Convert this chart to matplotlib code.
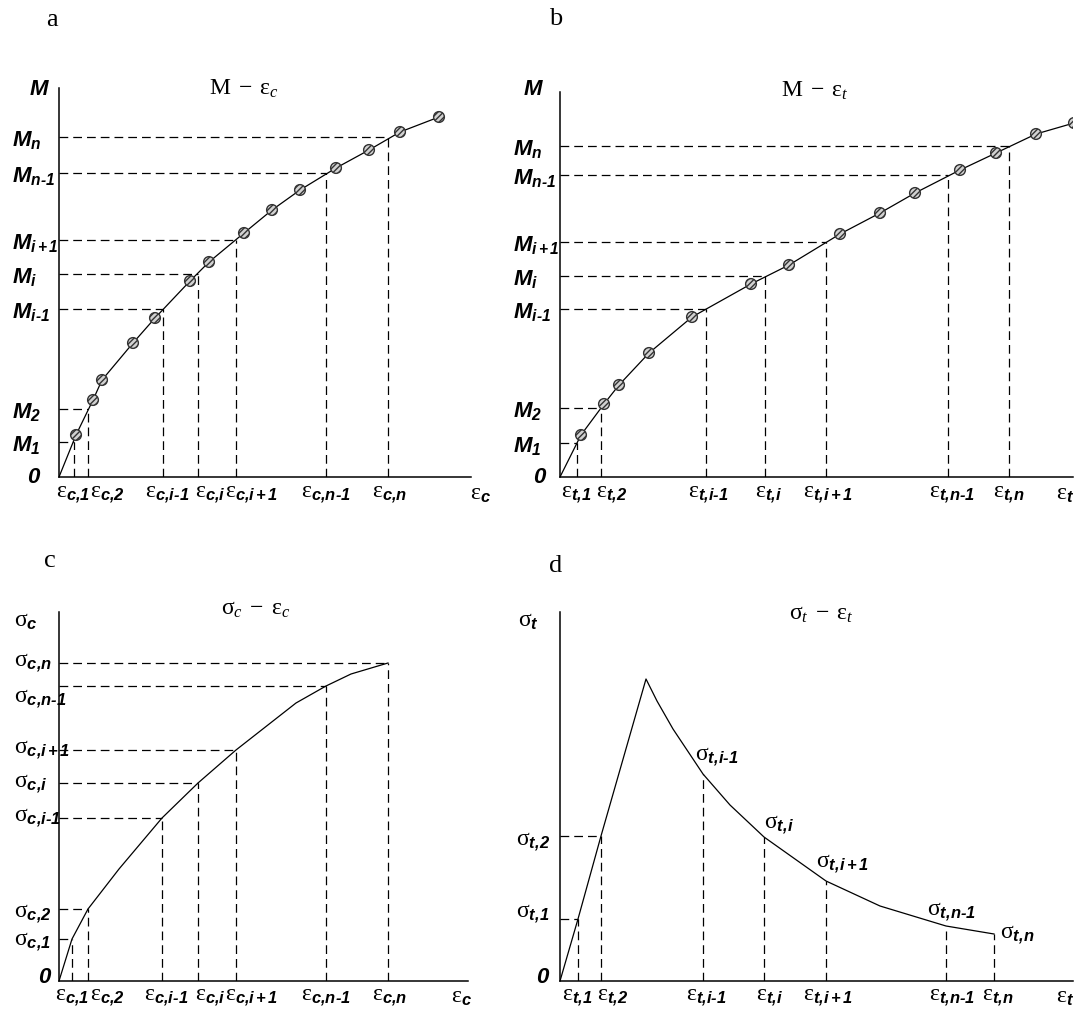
import numpy as np
import matplotlib
matplotlib.use('Agg')
import matplotlib.pyplot as plt

plt.rcParams['mathtext.fontset'] = 'custom'
plt.rcParams['mathtext.rm'] = 'Liberation Serif'
plt.rcParams['mathtext.it'] = 'Liberation Serif:style=italic'
plt.rcParams['mathtext.sf'] = 'Liberation Sans:style=italic:weight=bold'
plt.rcParams['mathtext.bf'] = 'Liberation Sans:weight=bold'

# ---- data (arbitrary units, read off the schematic) ----
# a: M - eps_c
a_pts_x = [0, 17, 34, 43, 74, 96, 131, 150, 185, 213, 241, 277, 310, 341, 380]
a_pts_y = [0, 42, 77, 97, 134, 159, 196, 215, 244, 267, 287, 309, 327, 345, 360]
a_eps = [15, 29, 104, 139, 177, 267, 329]
a_M = [35, 68, 168, 203, 237, 304, 340]

# b: M - eps_t
b_pts_x = [0, 21, 44, 59, 89, 132, 191, 229, 280, 320, 355, 400, 436, 476, 514]
b_pts_y = [0, 42, 73, 92, 124, 160, 193, 212, 243, 264, 284, 307, 324, 343, 354]
b_eps = [17, 41, 146, 205, 266, 388, 449]
b_M = [34, 69, 168, 201, 235, 302, 331]

# c: sigma_c - eps_c
c_curve_x = [0, 13, 29, 60, 103, 139, 177, 237, 267, 292, 329]
c_curve_y = [0, 42, 72, 112, 163, 198, 231, 278, 295, 307, 318]
c_eps = [13, 29, 103, 139, 177, 267, 329]
c_sig = [42, 72, 163, 198, 231, 295, 318]

# d: sigma_t - eps_t
d_curve_x = [0, 18, 41, 86, 97, 113, 143, 170, 204, 266, 320, 386, 434]
d_curve_y = [0, 62, 145, 302, 280, 252, 207, 176, 144, 100, 75, 55, 47]
d_eps = [18, 41, 143, 204, 266, 386, 434]
d_sig = [62, 145, 207, 144, 100, 55, 47]

HY = '\u2010'
c_sub = ['c{,}1', 'c{,}2', 'c{,}i' + HY + '1', 'c{,}i', 'c{,}i+1', 'c{,}n' + HY + '1', 'c{,}n']
t_sub = ['t{,}1', 't{,}2', 't{,}i' + HY + '1', 't{,}i', 't{,}i+1', 't{,}n' + HY + '1', 't{,}n']
M_sub = ['1', '2', 'i' + HY + '1', 'i', 'i+1', 'n' + HY + '1', 'n']

W, H = 1079, 1017
fig = plt.figure(figsize=(W / 100, H / 100), dpi=100)
fs = 16      # M labels
gs = 17      # greek-letter labels
DASH = (0, (7, 4))


def eps(s):
    return r'$\mathrm{\varepsilon}_{\mathsf{%s}}$' % s


def sig(s):
    return r'$\mathrm{\sigma}_{\mathsf{%s}}$' % s


def Mlab(s):
    return r'$\mathsf{M}_{\mathsf{%s}}$' % s


def panel(ox, oy, w, h):
    ax = fig.add_axes([ox / W, (H - oy) / H, w / W, h / H])
    ax.set_xlim(0, w)
    ax.set_ylim(0, h)
    for s in ['top', 'right']:
        ax.spines[s].set_visible(False)
    for s in ['left', 'bottom']:
        ax.spines[s].set_linewidth(1.1)
    ax.set_xticks([])
    ax.set_yticks([])
    ax.patch.set_alpha(0)
    return ax


def txt(ax, x, y, s, size=fs, **kw):
    ax.text(x, y, s, fontsize=size, clip_on=False, **kw)


def markers(ax, xs, ys):
    ax.scatter(xs, ys, s=60, facecolor='#d2d2d2', edgecolor='#333333',
               hatch='//////', linewidth=1.0, zorder=3)


# ---------------- panel a ----------------
ax = panel(59, 477, 412, 389)
ax.plot(a_pts_x, a_pts_y, color='k', lw=0.9)
markers(ax, a_pts_x[1:], a_pts_y[1:])
for x, y in zip(a_eps, a_M):
    ax.plot([0, x], [y, y], color='k', lw=0.9, ls=DASH)
    ax.plot([x, x], [0, y], color='k', lw=0.9, ls=DASH)
for x, d, s in zip(a_eps, [-1, 19, 4, 12, 16, 0, 2], c_sub):
    txt(ax, x + d, -4, eps(s), size=gs, ha='center', va='top')
for y, s in zip(a_M, M_sub):
    txt(ax, -47, y - 9, Mlab(s), ha='left', va='baseline')
txt(ax, -30, 382, r'$\mathsf{M}$', ha='left', va='baseline')
txt(ax, -18, -6, r'$\mathsf{0}$', ha='right', va='baseline')
txt(ax, 411, -4, eps('c'), size=gs, ha='left', va='top')
txt(ax, 185, 382, r'$\mathrm{M}\;-\;\mathrm{\varepsilon}_{c}$', size=17,
    ha='center', va='baseline')
ax.text(-13, 451, 'a', fontsize=19, family='Liberation Serif', clip_on=False)

# ---------------- panel b ----------------
ax = panel(560, 477, 513, 385)
ax.plot(b_pts_x, b_pts_y, color='k', lw=0.9)
markers(ax, b_pts_x[1:], b_pts_y[1:])
for x, y in zip(b_eps, b_M):
    ax.plot([0, x], [y, y], color='k', lw=0.9, ls=DASH)
    ax.plot([x, x], [0, y], color='k', lw=0.9, ls=DASH)
for x, d, s in zip(b_eps, [-1, 11, 2, 4, 2, 4, 0], t_sub):
    txt(ax, x + d, -4, eps(s), size=gs, ha='center', va='top')
for y, s in zip(b_M, M_sub):
    txt(ax, -47, y - 9, Mlab(s), ha='left', va='baseline')
txt(ax, -37, 382, r'$\mathsf{M}$', ha='left', va='baseline')
txt(ax, -13, -6, r'$\mathsf{0}$', ha='right', va='baseline')
txt(ax, 496, -4, eps('t'), size=gs, ha='left', va='top')
txt(ax, 255, 380, r'$\mathrm{M}\;-\;\mathrm{\varepsilon}_{t}$', size=17,
    ha='center', va='baseline')
ax.text(-11, 452, 'b', fontsize=19, family='Liberation Serif', clip_on=False)

# ---------------- panel c ----------------
ax = panel(59, 981, 409, 369)
ax.plot(c_curve_x, c_curve_y, color='k', lw=0.9)
for x, y in zip(c_eps, c_sig):
    ax.plot([0, x], [y, y], color='k', lw=0.9, ls=DASH)
    ax.plot([x, x], [0, y], color='k', lw=0.9, ls=DASH)
for x, d, s in zip(c_eps, [0, 19, 4, 12, 16, 0, 2], c_sub):
    txt(ax, x + d, -3, eps(s), size=gs, ha='center', va='top')
for y, s in zip([36, 64, 160, 194, 228, 279, 315], c_sub):
    txt(ax, -45, y, sig(s), size=gs, ha='left', va='baseline')
txt(ax, -45, 354, sig('c'), size=gs, ha='left', va='baseline')
txt(ax, -7, -2, r'$\mathsf{0}$', ha='right', va='baseline')
txt(ax, 392, -3, eps('c'), size=gs, ha='left', va='top')
txt(ax, 197, 366, r'$\mathrm{\sigma}_{c}\;-\;\mathrm{\varepsilon}_{c}$', size=17,
    ha='center', va='baseline')
ax.text(-15, 414, 'c', fontsize=19, family='Liberation Serif', clip_on=False)

# ---------------- panel d ----------------
ax = panel(560, 981, 513, 369)
ax.plot(d_curve_x, d_curve_y, color='k', lw=0.9)
for x, y in zip(d_eps[:2], d_sig[:2]):
    ax.plot([0, x], [y, y], color='k', lw=0.9, ls=DASH)
for x, y in zip(d_eps, d_sig):
    ax.plot([x, x], [0, y], color='k', lw=0.9, ls=DASH)
for x, d, s in zip(d_eps, [-1, 12, 3, 6, 2, 6, 4], t_sub):
    txt(ax, x + d, -3, eps(s), size=gs, ha='center', va='top')
for (x, y), s in zip([(-44, 64), (-44, 136), (135, 221), (204, 153), (256, 114),
                      (367, 66), (440, 43)], t_sub):
    txt(ax, x, y, sig(s), size=gs, ha='left', va='baseline')
txt(ax, -42, 354, sig('t'), size=gs, ha='left', va='baseline')
txt(ax, -10, -2, r'$\mathsf{0}$', ha='right', va='baseline')
txt(ax, 496, -3, eps('t'), size=gs, ha='left', va='top')
txt(ax, 261, 361, r'$\mathrm{\sigma}_{t}\;-\;\mathrm{\varepsilon}_{t}$', size=17,
    ha='center', va='baseline')
ax.text(-11, 409, 'd', fontsize=19, family='Liberation Serif', clip_on=False)

fig.savefig('out.png', dpi=100)
